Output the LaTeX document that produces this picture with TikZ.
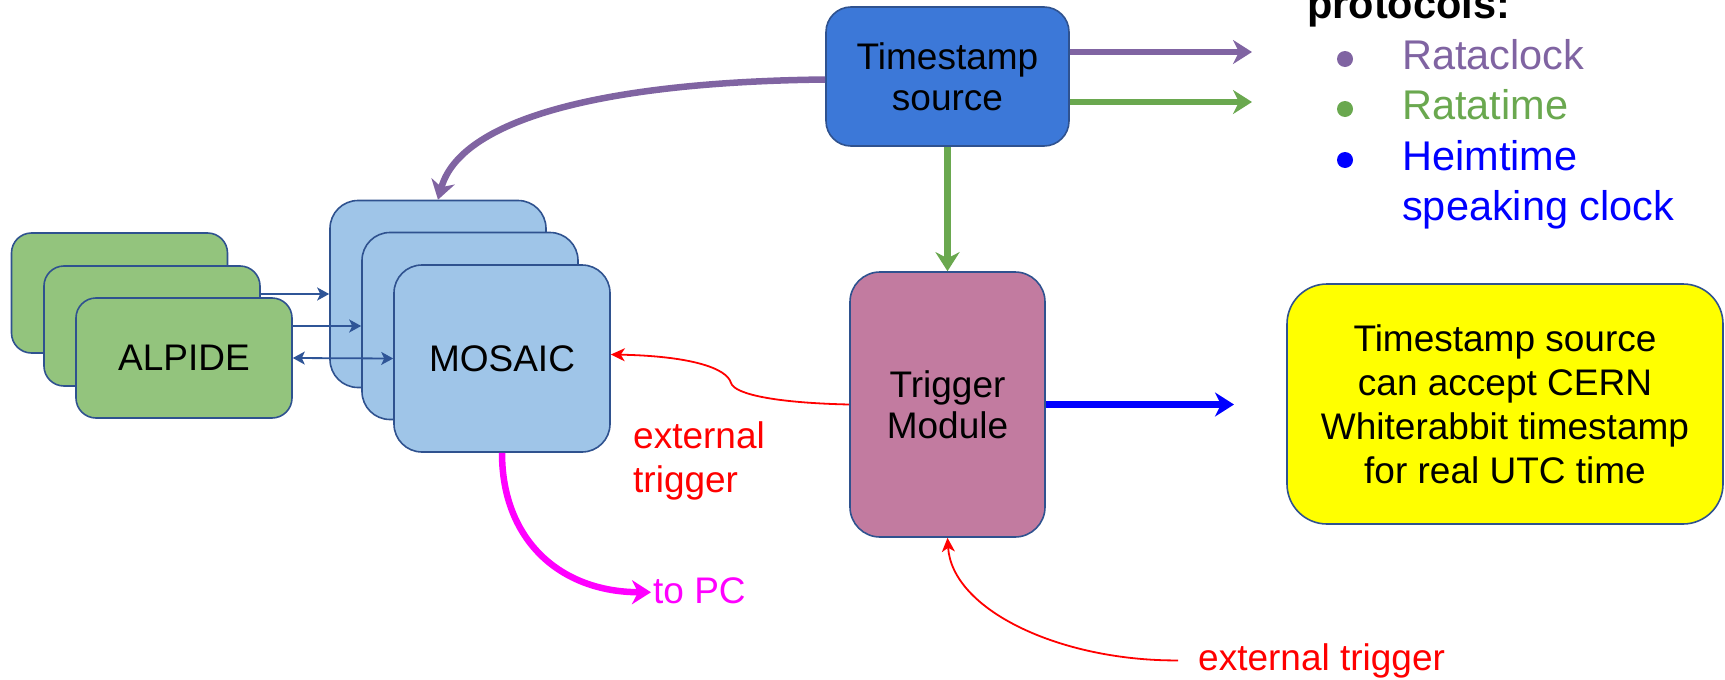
\documentclass[tikz,border=0pt]{standalone}
\usepackage{fontspec}
\setmainfont{Liberation Sans}
\usetikzlibrary{arrows.meta}
\definecolor{edge}{HTML}{2F528F}
\definecolor{tsblue}{HTML}{3C78D8}
\definecolor{mosblue}{HTML}{9FC5E8}
\definecolor{alpgreen}{HTML}{93C47D}
\definecolor{trigpink}{HTML}{C27BA0}
\definecolor{purp}{HTML}{8064A2}
\definecolor{grn}{HTML}{6AA84F}
\definecolor{linkblue}{HTML}{2F5597}
\definecolor{notefill}{HTML}{FFFF00}
\definecolor{pcpink}{HTML}{FF00FF}
\definecolor{trigred}{HTML}{FF0000}
\definecolor{protoblue}{HTML}{0000FF}
\begin{document}
\begin{tikzpicture}[x=1pt,y=-1pt,
  txt/.style={font=\fontsize{37}{41}\selectfont},
  box/.style={draw=edge, line width=1.6pt, inner sep=0pt, align=center, txt},
  alpbox/.style={box, fill=alpgreen, rounded corners=20pt, minimum width=216pt, minimum height=120pt},
  mosbox/.style={box, fill=mosblue, rounded corners=28pt, minimum width=216pt, minimum height=187pt},
  fat/.style={line width=6.5pt, -{Stealth[length=19pt,width=24pt,inset=6pt]}},
  thin/.style={linkblue, line width=1.8pt, -{Stealth[length=12pt,width=13pt,inset=3pt]}},
  redline/.style={trigred, line width=1.8pt, -{Stealth[length=14pt,width=13pt,inset=4pt]}},
  listtxt/.style={inner sep=0pt, anchor=base west, font=\fontsize{41.5}{50}\selectfont},
  dot/.style={circle, inner sep=0pt, minimum size=16pt}]
\useasboundingbox (0,0) rectangle (1725,680);

% ALPIDE stack
\node[alpbox] (alp1) at (119.5,293) {};
\node[alpbox] (alp2) at (152,326) {};
\node[alpbox] (alp3) at (184,358) {ALPIDE};

% MOSAIC stack
\node[mosbox] (mos1) at (438,294) {};
\node[mosbox] (mos2) at (470,326) {};
\node[mosbox] (mos3) at (502,358.5) {MOSAIC};

% timestamp source and trigger module
\node[box, fill=tsblue, rounded corners=25pt, minimum width=243pt, minimum height=139pt] (ts) at (947.5,76.5) {Timestamp\\source};
\node[box, fill=trigpink, rounded corners=30pt, minimum width=195pt, minimum height=265pt] (trig) at (947.5,404.5) {Trigger\\Module};

% note box
\node[box, fill=notefill, rounded corners=40pt, minimum width=436pt, minimum height=240pt,
      font=\fontsize{37}{44}\selectfont] (note) at (1505,404)
  {Timestamp source\\can accept CERN\\Whiterabbit timestamp\\for real UTC time};

% protocol list
\node[listtxt, font=\fontsize{41.5}{50}\selectfont\bfseries] (proto) at (1307,19) {protocols:};
\node[dot, fill=purp] (b1) at (1345,59) {};
\node[dot, fill=grn] (b2) at (1345,109) {};
\node[dot, fill=protoblue] (b3) at (1345,160) {};
\node[listtxt, text=purp] (p1) at (1402,69) {Rataclock};
\node[listtxt, text=grn] (p2) at (1402,119) {Ratatime};
\node[listtxt, text=protoblue] (p3) at (1402,170) {Heimtime};
\node[listtxt, text=protoblue] (p4) at (1402,220) {speaking clock};

% labels
\node[txt, text=trigred, inner sep=0pt, anchor=west, align=left, font=\fontsize{37}{44}\selectfont] (ext1) at (633,460.6) {external\\trigger};
\node[txt, text=trigred, inner sep=0pt, anchor=base west] (ext2) at (1198,670) {external trigger};
\node[txt, text=pcpink, inner sep=0pt, anchor=base west] (topc) at (653,603) {to PC};

% free ends
\coordinate (pr1) at (1252,52);
\coordinate (pr2) at (1252,102);
\coordinate (bt) at (1234,404.5);
\coordinate (ext2in) at ([xshift=-20pt]ext2.west);

% ALPIDE to MOSAIC links
\draw[thin] (alp2.east |- mos1.west) -- (mos1.west);
\draw[thin] (alp3.east |- mos2.west) -- (mos2.west);
\draw[thin, {Stealth[length=12pt,width=13pt,inset=3pt]}-{Stealth[length=12pt,width=13pt,inset=3pt]}] (alp3.east) -- (mos3.west);

% timestamp distribution
\draw[fat, purp] ([yshift=-3pt]ts.west) .. controls (600,82) and (460,120) .. (mos1.north);
\draw[fat, purp] (ts.east |- pr1) -- (pr1);
\draw[fat, grn] (ts.east |- pr2) -- (pr2);
\draw[fat, grn] (ts.south) -- (trig.north);
\draw[fat, protoblue] (trig.east) -- (bt);

% triggers
\draw[redline] (trig.west) .. controls (780,403) and (735,395) .. (731,383)
  .. controls (727,368) and (690,356) .. ([yshift=4pt]mos3.east);
\draw[redline] (ext2in) .. controls (1060,661) and (952,610) .. (trig.south);

% readout
\draw[fat, pcpink] (mos3.south) .. controls (502,540) and (560,592) .. ([xshift=-2pt,yshift=-2pt]topc.west);
\end{tikzpicture}
\end{document}
